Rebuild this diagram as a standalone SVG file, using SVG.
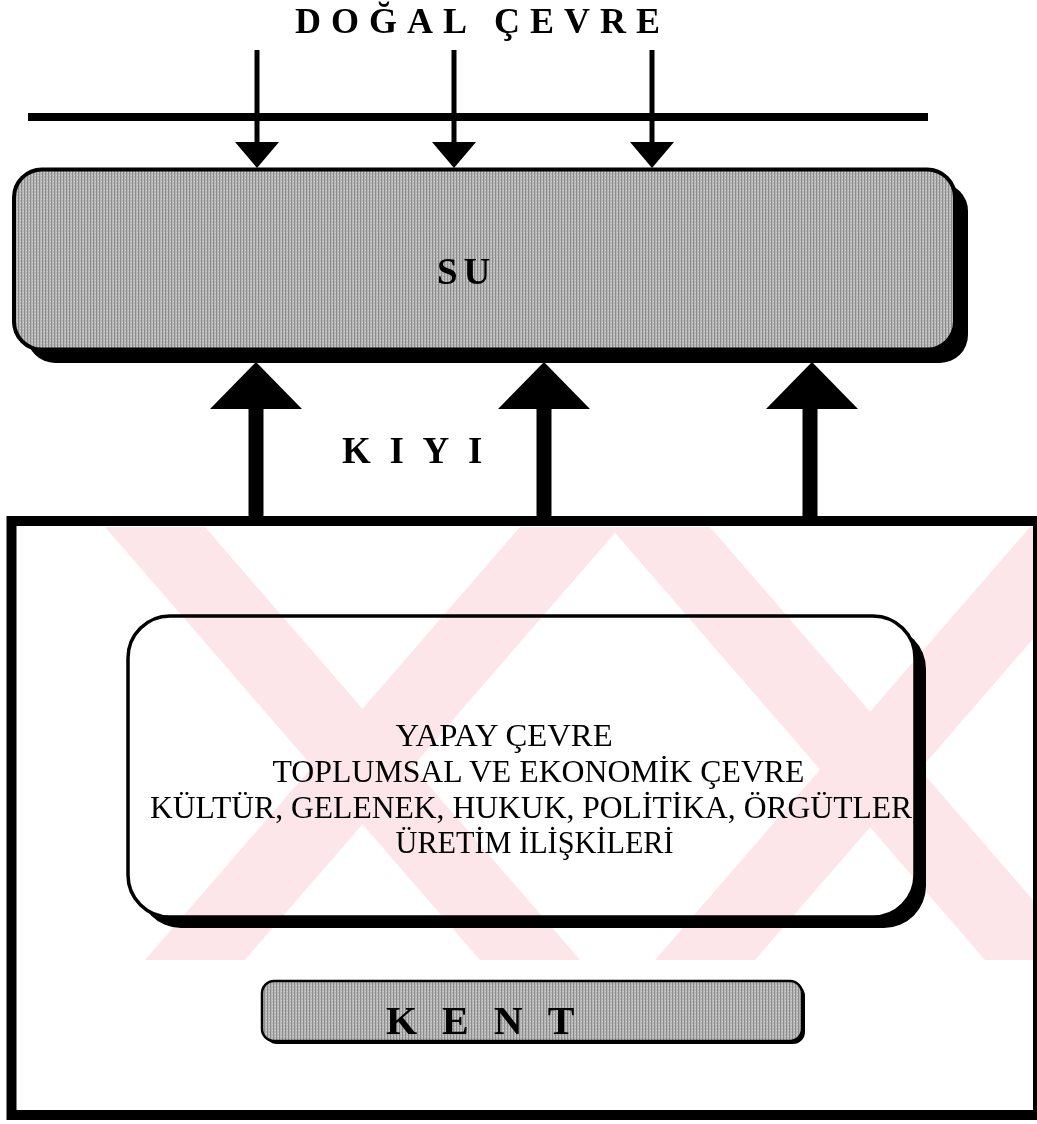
<svg xmlns="http://www.w3.org/2000/svg" width="1037" height="1124" viewBox="0 0 1037 1124">
  <style>
    .title { font-family: "Liberation Serif", "Times New Roman", serif; font-weight: bold; fill: #000; }
    .body { font-family: "Liberation Serif", "Times New Roman", serif; font-size: 32px; fill: #000; }
    .frame { fill: none; stroke: #000; }
    .shadow { fill: #000; }
    #watermark { mix-blend-mode: multiply; }
  </style>
  <defs>
    <pattern id="scan" width="3" height="3" patternUnits="userSpaceOnUse">
      <rect width="3" height="3" fill="#b6b6b6"/>
      <rect x="0" y="0" width="1" height="3" fill="#8c8c8c"/>
      <rect x="2" y="1" width="1" height="1" fill="#d2d2d2"/>
    </pattern>
    <clipPath id="wmclip">
      <rect x="17" y="527" width="1016" height="433"/>
    </clipPath>
  </defs>

  <rect width="1037" height="1124" fill="#ffffff"/>

  <!-- title -->
  <g id="dogal-cevre">
    <text class="title" x="295" y="33" font-size="36" letter-spacing="10">DOĞAL ÇEVRE</text>
    <rect x="28" y="113" width="900" height="8" fill="#000"/>
  </g>

  <!-- SU -->
  <g id="su">
    <rect class="shadow" x="27" y="183" width="941" height="180" rx="28"/>
    <rect x="14" y="169.5" width="941" height="180" rx="28" fill="url(#scan)" stroke="#000" stroke-width="4"/>
    <text class="title" x="437" y="284" font-size="37" letter-spacing="6">SU</text>
  </g>

  <!-- KIYI label -->
  <g id="kiyi">
    <text class="title" x="342" y="463" font-size="37" letter-spacing="18.7">KIYI</text>
  </g>

  <!-- KENT outer frame -->
  <g id="kent-frame">
    <rect class="frame" x="11.5" y="521" width="1026.5" height="594" stroke-width="10"/>
  </g>

  <!-- Yapay cevre box -->
  <g id="yapay-cevre">
    <rect class="shadow" x="139" y="627" width="787" height="301" rx="42"/>
    <rect x="128" y="616" width="787" height="301" rx="42" fill="#ffffff" stroke="#000" stroke-width="3.5"/>
    <text class="body" x="395.6" y="746" textLength="217" lengthAdjust="spacingAndGlyphs">YAPAY ÇEVRE</text>
    <text class="body" x="272.5" y="782" textLength="532" lengthAdjust="spacingAndGlyphs">TOPLUMSAL VE EKONOMİK ÇEVRE</text>
    <text class="body" x="150" y="818" textLength="770" lengthAdjust="spacingAndGlyphs">KÜLTÜR, GELENEK, HUKUK, POLİTİKA, ÖRGÜTLER,</text>
    <text class="body" x="395.6" y="853" textLength="278" lengthAdjust="spacingAndGlyphs">ÜRETİM İLİŞKİLERİ</text>
  </g>

  <!-- KENT label box -->
  <g id="kent">
    <rect class="shadow" x="265" y="984" width="540" height="60" rx="12"/>
    <rect x="262" y="981" width="540" height="60" rx="12" fill="url(#scan)" stroke="#000" stroke-width="2.5"/>
    <text class="title" x="386" y="1034" font-size="40" letter-spacing="25">KENT</text>
  </g>

  <!-- connectors -->
  <g id="connectors" fill="#000">
    <rect x="254.5" y="50" width="5" height="94"/>
    <polygon points="235,142 279,142 257,168"/>
    <rect x="451.5" y="50" width="5" height="94"/>
    <polygon points="432,142 476,142 454,168"/>
    <rect x="649.5" y="50" width="5" height="94"/>
    <polygon points="630,142 674,142 652,168"/>

    <rect x="248.5" y="407" width="15" height="111"/>
    <polygon points="210,409 302,409 256,362"/>
    <rect x="536.5" y="407" width="15" height="111"/>
    <polygon points="498,409 590,409 544,362"/>
    <rect x="802.5" y="407" width="15" height="111"/>
    <polygon points="766,409 858,409 812,362"/>
  </g>

  <!-- faint watermark (multiplied over the page) -->
  <g id="watermark" clip-path="url(#wmclip)" fill="#fce6e9">
    <polygon points="105,527 205,527 580,960 480,960"/>
    <polygon points="520,527 620,527 245,960 145,960"/>
    <polygon points="610,527 710,527 1085,960 985,960"/>
    <polygon points="1030,527 1130,527 755,960 655,960"/>
  </g>
</svg>
